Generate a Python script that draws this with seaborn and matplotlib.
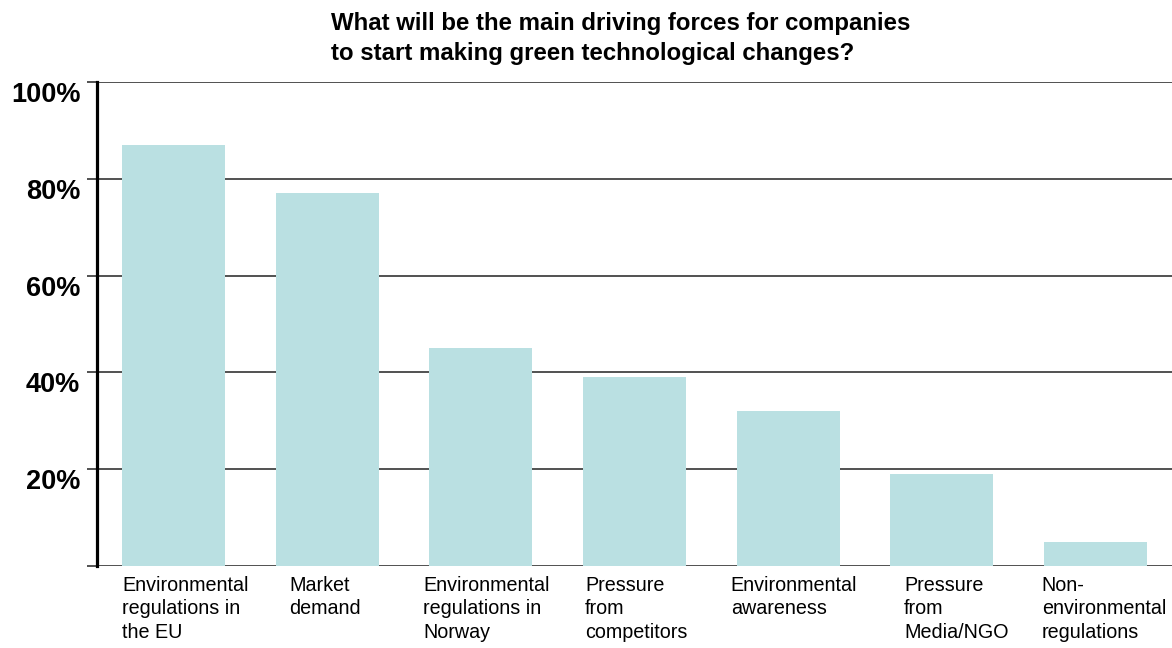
import matplotlib
matplotlib.use("Agg")
import matplotlib.pyplot as plt
import matplotlib.transforms as mtransforms
import seaborn as sns
import pandas as pd

# Survey answers: share of respondents naming each driving force
categories = [
    "Environmental\nregulations in\nthe EU",
    "Market\ndemand",
    "Environmental\nregulations in\nNorway",
    "Pressure\nfrom\ncompetitors",
    "Environmental\nawareness",
    "Pressure\nfrom\nMedia/NGO",
    "Non-\nenvironmental\nregulations",
]
values = [87, 77, 45, 39, 32, 19, 5]
yticks = [0, 20, 40, 60, 80, 100]
ytick_labels = ["", "20%", "40%", "60%", "80%", "100%"]
title = ("What will be the main driving forces for companies\n"
         "to start making green technological changes?")

sns.set_theme(style="white")
plt.rcParams["font.family"] = ["Liberation Sans", "DejaVu Sans"]

df = pd.DataFrame({"force": categories, "share": values})

fig = plt.figure(figsize=(11.72, 6.48), dpi=100)
ax = fig.add_axes([97 / 1172, 1 - 566 / 648, 1 - 97 / 1172, (566 - 82) / 648])

bar_width = 0.67
sns.barplot(data=df, x="force", y="share", color="#bae0e2", saturation=1,
            width=bar_width, linewidth=0, ax=ax, zorder=3)

ax.set_xlim(-0.5, len(categories) - 0.5)
ax.set_ylim(0, 100)

# Horizontal rules behind the bars, including the baseline
for y in yticks:
    ax.axhline(y, color="#222222", lw=1.1, zorder=1)

ax.set_yticks(yticks)
ax.set_yticklabels(ytick_labels, fontsize=19.5, fontweight="bold",
                   color="black")
ax.tick_params(axis="y", direction="out", length=7, width=1.1,
               color="#222222", pad=5, left=True)
# y labels sit a little below their rule
shift = mtransforms.ScaledTranslation(0, -10 / 100, fig.dpi_scale_trans)
for lbl in ax.get_yticklabels():
    lbl.set_transform(lbl.get_transform() + shift)

# Category labels, left-aligned near each bar's left edge (nudges in px)
label_nudge = [0, 13, -6, 2, -6, 14, -2]
ax.set_xticks([])
ax.set_xlabel("")
ax.set_ylabel("")
trans = mtransforms.blended_transform_factory(ax.transData, ax.transAxes)
for i, lab in enumerate(categories):
    off = mtransforms.ScaledTranslation(label_nudge[i] / 100, 0,
                                        fig.dpi_scale_trans)
    ax.text(i - bar_width / 2, -0.02, lab, transform=trans + off,
            ha="left", va="top", fontsize=14.2, linespacing=1.3,
            color="black")

for side in ("top", "right", "bottom"):
    ax.spines[side].set_visible(False)
ax.spines["left"].set_color("black")
ax.spines["left"].set_linewidth(2.3)
ax.spines["left"].set_zorder(4)

fig.text(331 / 1172, 1 - 12 / 648, title, ha="left", va="top",
         fontsize=17.3, fontweight="bold", linespacing=1.4, color="black")

fig.savefig("out.png", dpi=100)
